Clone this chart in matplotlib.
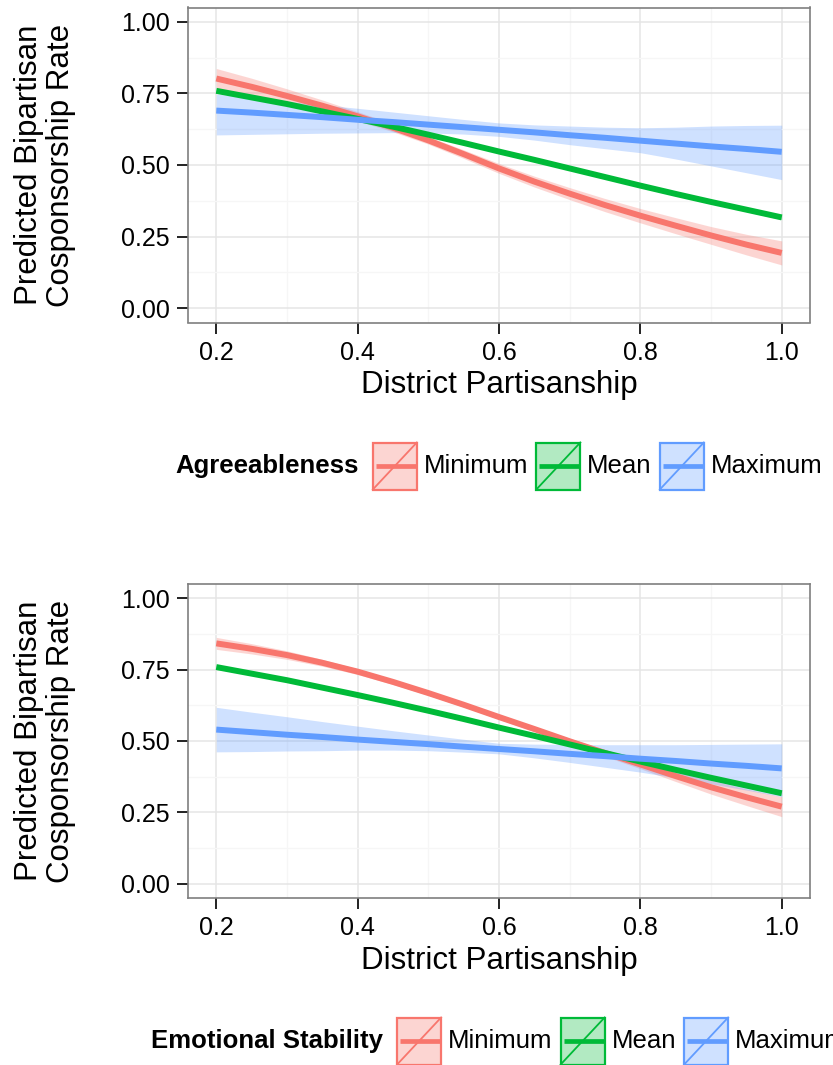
import matplotlib
matplotlib.use("Agg")
import matplotlib.pyplot as plt
from matplotlib.patches import Rectangle
from matplotlib.lines import Line2D

# District partisanship grid
partisanship = [0.20, 0.25, 0.30, 0.35, 0.40, 0.45, 0.50, 0.55, 0.60,
                0.65, 0.70, 0.75, 0.80, 0.85, 0.90, 0.95, 1.00]

# Agreeableness: predicted rates with confidence bounds
agr_min = [0.802, 0.773, 0.741, 0.707, 0.670, 0.630, 0.586, 0.538, 0.488,
           0.442, 0.400, 0.360, 0.323, 0.288, 0.254, 0.222, 0.193]
agr_min_lo = [0.767, 0.743, 0.716, 0.687, 0.654, 0.616, 0.573, 0.523, 0.471,
              0.423, 0.379, 0.337, 0.298, 0.260, 0.223, 0.186, 0.151]
agr_min_hi = [0.837, 0.803, 0.766, 0.727, 0.686, 0.644, 0.599, 0.553, 0.505,
              0.461, 0.421, 0.383, 0.348, 0.316, 0.285, 0.258, 0.235]
agr_mean = [0.759, 0.736, 0.713, 0.687, 0.661, 0.634, 0.606, 0.577, 0.547,
            0.518, 0.488, 0.458, 0.428, 0.399, 0.371, 0.344, 0.317]
agr_mean_lo = [0.752, 0.730, 0.708, 0.682, 0.657, 0.630, 0.602, 0.573, 0.543,
               0.514, 0.484, 0.453, 0.423, 0.393, 0.364, 0.337, 0.309]
agr_mean_hi = [0.766, 0.742, 0.718, 0.692, 0.665, 0.638, 0.610, 0.581, 0.551,
               0.522, 0.492, 0.463, 0.433, 0.405, 0.378, 0.351, 0.325]
agr_max = [0.690, 0.683, 0.675, 0.667, 0.658, 0.650, 0.641, 0.632, 0.623,
           0.614, 0.604, 0.595, 0.585, 0.575, 0.565, 0.556, 0.546]
agr_max_lo = [0.605, 0.607, 0.609, 0.611, 0.612, 0.613, 0.612, 0.608, 0.600,
              0.587, 0.571, 0.557, 0.543, 0.521, 0.497, 0.473, 0.449]
agr_max_hi = [0.748, 0.735, 0.722, 0.710, 0.698, 0.685, 0.672, 0.659, 0.647,
              0.640, 0.636, 0.632, 0.630, 0.632, 0.636, 0.638, 0.639]

# Emotional stability: predicted rates with confidence bounds
emo_min = [0.842, 0.823, 0.801, 0.774, 0.743, 0.707, 0.668, 0.627, 0.584,
           0.542, 0.499, 0.458, 0.418, 0.377, 0.338, 0.303, 0.270]
emo_min_lo = [0.821, 0.805, 0.786, 0.762, 0.733, 0.698, 0.660, 0.619, 0.576,
              0.533, 0.489, 0.446, 0.403, 0.358, 0.314, 0.274, 0.235]
emo_min_hi = [0.863, 0.841, 0.816, 0.786, 0.753, 0.716, 0.676, 0.635, 0.592,
              0.551, 0.509, 0.470, 0.433, 0.396, 0.362, 0.332, 0.305]
emo_mean = [0.759, 0.736, 0.713, 0.687, 0.661, 0.634, 0.606, 0.577, 0.547,
            0.518, 0.488, 0.458, 0.428, 0.399, 0.371, 0.344, 0.317]
emo_mean_lo = [0.752, 0.730, 0.708, 0.682, 0.657, 0.630, 0.602, 0.573, 0.543,
               0.514, 0.484, 0.453, 0.423, 0.393, 0.364, 0.337, 0.309]
emo_mean_hi = [0.766, 0.742, 0.718, 0.692, 0.665, 0.638, 0.610, 0.581, 0.551,
               0.522, 0.492, 0.463, 0.433, 0.405, 0.378, 0.351, 0.325]
emo_max = [0.540, 0.531, 0.522, 0.514, 0.505, 0.497, 0.489, 0.480, 0.472,
           0.464, 0.455, 0.447, 0.438, 0.430, 0.421, 0.413, 0.404]
emo_max_lo = [0.462, 0.463, 0.465, 0.466, 0.468, 0.468, 0.466, 0.461, 0.455,
              0.441, 0.425, 0.408, 0.391, 0.371, 0.350, 0.328, 0.305]
emo_max_hi = [0.618, 0.601, 0.585, 0.568, 0.552, 0.536, 0.521, 0.506, 0.492,
              0.489, 0.488, 0.487, 0.487, 0.487, 0.488, 0.489, 0.490]

levels = ["Minimum", "Mean", "Maximum"]
colors = ["#F8766D", "#00BA38", "#619CFF"]
x_ticks = [0.2, 0.4, 0.6, 0.8, 1.0]
x_ticklabels = ["0.2", "0.4", "0.6", "0.8", "1.0"]
y_ticks = [0.0, 0.25, 0.5, 0.75, 1.0]
y_ticklabels = ["0.00", "0.25", "0.50", "0.75", "1.00"]

FONT = "Liberation Sans"
plt.rcParams["font.family"] = [FONT, "DejaVu Sans"]

TICK_SIZE = 18
TITLE_SIZE = 22.5
LEGEND_SIZE = 18.5

W, H = 833, 1065
fig = plt.figure(figsize=(W / 100, H / 100), dpi=100)


def px_axes(left, top, right, bottom):
    return fig.add_axes([left / W, 1 - bottom / H, (right - left) / W, (bottom - top) / H])


def draw_panel(ax, series):
    ax.set_xlim(0.16, 1.04)
    ax.set_ylim(-0.05, 1.05)
    ax.set_xticks(x_ticks)
    ax.set_xticklabels(x_ticklabels)
    ax.set_yticks(y_ticks)
    ax.set_yticklabels(y_ticklabels)
    ax.set_xticks([0.3, 0.5, 0.7, 0.9], minor=True)
    ax.set_yticks([0.125, 0.375, 0.625, 0.875], minor=True)
    ax.grid(which="major", color="#E5E5E5", linewidth=1.1)
    ax.grid(which="minor", color="#F6F6F6", linewidth=0.9)
    ax.set_axisbelow(True)
    ax.tick_params(which="major", direction="out", length=8, width=1.4,
                   color="#222222", labelsize=TICK_SIZE, labelcolor="black", pad=5)
    ax.tick_params(which="minor", length=0)
    for sp in ax.spines.values():
        sp.set_color("#7F7F7F")
        sp.set_linewidth(1.2)
    for (m, lo, hi), c in zip(series, colors):
        ax.fill_between(partisanship, lo, hi, color=c, alpha=0.3, linewidth=0)
    for (m, lo, hi), c in zip(series, colors):
        ax.plot(partisanship, m, color=c, linewidth=4.3, solid_capstyle="butt",
                solid_joinstyle="round")


def axis_titles(top, bottom):
    cy = 1 - (top + bottom) / 2 / H
    fig.text(45 / W, cy, "Predicted Bipartisan\nCosponsorship Rate", rotation=90,
             ha="center", va="center", multialignment="center", fontsize=TITLE_SIZE,
             linespacing=1.05)
    fig.text(499 / W, 1 - (bottom + 71) / H, "District Partisanship",
             ha="center", va="baseline", fontsize=TITLE_SIZE)


ax1 = px_axes(188, 7.5, 810, 322.5)
draw_panel(ax1, [(agr_min, agr_min_lo, agr_min_hi),
                 (agr_mean, agr_mean_lo, agr_mean_hi),
                 (agr_max, agr_max_lo, agr_max_hi)])
axis_titles(7.5, 322.5)

ax2 = px_axes(188, 584, 810, 898)
draw_panel(ax2, [(emo_min, emo_min_lo, emo_min_hi),
                 (emo_mean, emo_mean_lo, emo_mean_hi),
                 (emo_max, emo_max_lo, emo_max_hi)])
axis_titles(584, 898)

# Legend overlay drawn in pixel coordinates
lax = fig.add_axes([0, 0, 1, 1], zorder=5)
lax.set_xlim(0, W)
lax.set_ylim(H, 0)
lax.axis("off")
renderer = fig.canvas.get_renderer()


def text_width(t):
    return t.get_window_extent(renderer=renderer).width


def draw_legend(title, cy, center_x):
    key_w, key_h = 46, 49
    tt = lax.text(0, cy, title, fontsize=LEGEND_SIZE, fontweight="bold",
                  va="center", ha="left")
    total = text_width(tt) + 13
    labels = []
    for lab in levels:
        lt = lax.text(0, cy, lab, fontsize=LEGEND_SIZE, va="center", ha="left")
        labels.append(lt)
        total += key_w + 6 + text_width(lt) + 7
    total -= 7
    x = center_x - total / 2
    tt.set_x(x)
    x += text_width(tt) + 13
    for lt, c in zip(labels, colors):
        top = cy - key_h / 2
        lax.add_patch(Rectangle((x, top), key_w, key_h, facecolor=c, alpha=0.3,
                                edgecolor="none"))
        lax.add_patch(Rectangle((x + 1, top + 1), key_w - 2, key_h - 2, facecolor="none",
                                edgecolor=c, linewidth=1.6))
        lax.add_line(Line2D([x + 1, x + key_w - 1], [top + key_h - 1, top + 1],
                            color=c, linewidth=1.3))
        lax.add_line(Line2D([x + 4, x + key_w - 2], [cy, cy], color=c, linewidth=3.4,
                            solid_capstyle="butt"))
        x += key_w + 6
        lt.set_x(x)
        x += text_width(lt) + 7


draw_legend("Agreeableness", 466, 499)
draw_legend("Emotional Stability", 1041, 499)

fig.savefig("out.png", dpi=100)
